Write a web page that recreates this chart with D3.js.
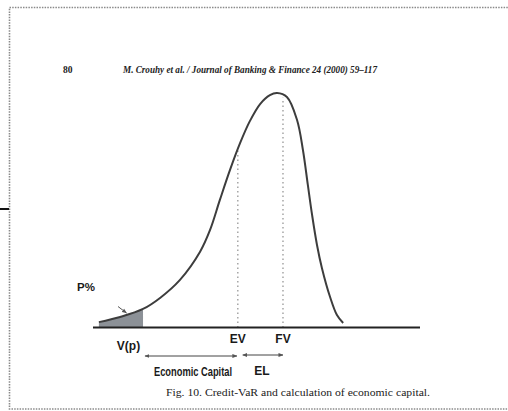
<!DOCTYPE html>
<html><head><meta charset="utf-8">
<title>Credit-VaR</title>
<script src="https://cdn.jsdelivr.net/npm/d3@7"></script>
<style>
body { margin: 0; background: #fff; }
</style>
</head>
<body>
<script>

// loss distribution (x: portfolio value, y: density, both 0-100)
var curve_x = [1.8, 8.3, 15.3, 20.5, 26.6, 32.7, 35.8, 38.8, 41.9, 45.0, 48.0, 51.1, 54.1, 56.3, 59.3, 62.4, 64.2, 65.7, 67.0, 68.5, 70.0, 72.5, 74.6, 76.5];
var curve_y = [2.3, 4.5, 7.9, 12.6, 20.3, 32.2, 41.6, 54.4, 67.2, 78.7, 88.1, 95.3, 99.1, 100, 98.3, 88.5, 75.7, 60.8, 48.0, 35.2, 25.4, 13.0, 5.3, 1.9];

// marker positions on the value axis
var marker_names = ["V(p)", "EV", "FV"];
var marker_x = [15.3, 44.3, 58.1];
var marker_top = [0, 76, 98];   // height where the dotted lines stop

var header_page = "80";
var header_text = "M. Crouhy et al. / Journal of Banking & Finance 24 (2000) 59\u2013117";
var caption_text = "Fig. 10. Credit-VaR and calculation of economic capital.";
var span_labels = ["Economic Capital", "EL"];

var width = 508;
var height = 411;
var svg = d3.select("body").append("svg").attr("width", width).attr("height", height);

var x = d3.scaleLinear().domain([0, 100]).range([93, 420]);
var y = d3.scaleLinear().domain([0, 100]).range([327.5, 93]);

var pts = curve_x.map(function(d, i) { return [d, curve_y[i]]; });

// dotted frame of the scanned page
svg.append("rect")
	.attr("x", 9.5).attr("y", 7.5)
	.attr("width", 530).attr("height", 401.5)
	.attr("fill", "none")
	.attr("stroke", "#8a8a8a")
	.attr("stroke-width", 1.6)
	.attr("stroke-dasharray", "1.5,1.2");

svg.append("line")
	.attr("x1", 0).attr("x2", 9).attr("y1", 209).attr("y2", 209)
	.attr("stroke", "#111").attr("stroke-width", 2);

// header
svg.append("text")
	.attr("x", 63).attr("y", 72.5)
	.attr("font-family", "Liberation Serif, Times New Roman, serif")
	.attr("font-weight", "bold")
	.attr("font-size", 9.5)
	.attr("fill", "#222")
	.text(header_page);

svg.append("text")
	.attr("x", 123).attr("y", 72.5)
	.attr("font-family", "Liberation Serif, Times New Roman, serif")
	.attr("font-style", "italic")
	.attr("font-weight", "bold")
	.attr("font-size", 10)
	.attr("textLength", 254)
	.attr("lengthAdjust", "spacingAndGlyphs")
	.attr("fill", "#222")
	.text(header_text);

var line = d3.line()
	.x(function(d) { return x(d[0]); })
	.y(function(d) { return y(d[1]); })
	.curve(d3.curveCatmullRom.alpha(0.5));

// shaded tail up to V(p)
var tail = pts.filter(function(d) { return d[0] <= marker_x[0]; });
var area = d3.area()
	.x(function(d) { return x(d[0]); })
	.y0(y(0))
	.y1(function(d) { return y(d[1]); })
	.curve(d3.curveMonotoneX);
svg.append("path")
	.datum(tail)
	.attr("d", area)
	.attr("fill", "#8c9197");

// dotted verticals at EV and FV
svg.append("g").selectAll("line")
	.data([1, 2])
	.enter().append("line")
	.attr("x1", function(i) { return x(marker_x[i]); })
	.attr("x2", function(i) { return x(marker_x[i]); })
	.attr("y1", y(0))
	.attr("y2", function(i) { return y(marker_top[i]); })
	.attr("stroke", "#777")
	.attr("stroke-width", 1)
	.attr("stroke-dasharray", "1.5,3");

// the distribution
svg.append("path")
	.datum(pts)
	.attr("d", line)
	.attr("fill", "none")
	.attr("stroke", "#3d3d3d")
	.attr("stroke-width", 2);

// value axis
svg.append("line")
	.attr("x1", x(0)).attr("x2", x(100))
	.attr("y1", y(0)).attr("y2", y(0))
	.attr("stroke", "#222").attr("stroke-width", 2.2);

// little arrow pointing at the tail
svg.append("defs").append("marker")
	.attr("id", "head")
	.attr("viewBox", "0 0 10 10")
	.attr("refX", 9).attr("refY", 5)
	.attr("markerWidth", 5).attr("markerHeight", 5)
	.attr("orient", "auto-start-reverse")
	.append("path")
	.attr("d", "M0,1L10,5L0,9Z")
	.attr("fill", "#555");

svg.append("line")
	.attr("x1", 118).attr("y1", 306.5)
	.attr("x2", 126.5).attr("y2", 313)
	.attr("stroke", "#555").attr("stroke-width", 1)
	.attr("marker-end", "url(#head)");

var sans = "Liberation Sans Narrow, Arial Narrow, Liberation Sans, Arial, sans-serif";

svg.append("text")
	.attr("x", 77).attr("y", 291)
	.attr("font-family", sans).attr("font-weight", "bold").attr("font-size", 11.5)
	.attr("fill", "#1a1a1a")
	.text("P%");

// marker labels
svg.append("g").selectAll("text")
	.data(marker_names)
	.enter().append("text")
	.attr("x", function(d, i) { return i == 0 ? x(marker_x[i]) - 14.5 : x(marker_x[i]); })
	.attr("y", function(d, i) { return i == 0 ? 349.5 : 342.5; })
	.attr("text-anchor", "middle")
	.attr("font-family", sans).attr("font-weight", "bold").attr("font-size", 12)
	.attr("fill", "#1a1a1a")
	.text(function(d) { return d; });

// spans: economic capital (V(p) -> EV) and expected loss (EV -> FV)
var spans = [[marker_x[0] + 0.6, marker_x[1] - 0.3], [marker_x[1] + 1.5, marker_x[2]]];
svg.append("g").selectAll("line")
	.data(spans)
	.enter().append("line")
	.attr("x1", function(d) { return x(d[0]); })
	.attr("x2", function(d) { return x(d[1]); })
	.attr("y1", function(d, i) { return i == 0 ? 356 : 355; })
	.attr("y2", function(d, i) { return i == 0 ? 356 : 355; })
	.attr("stroke", "#444").attr("stroke-width", 1)
	.attr("marker-start", "url(#head)")
	.attr("marker-end", "url(#head)");

svg.append("text")
	.attr("x", 154).attr("y", 376)
	.attr("font-family", sans).attr("font-weight", "bold").attr("font-size", 12)
	.attr("textLength", 78).attr("lengthAdjust", "spacingAndGlyphs")
	.attr("fill", "#1a1a1a")
	.text(span_labels[0]);

svg.append("text")
	.attr("x", 262).attr("y", 375)
	.attr("text-anchor", "middle")
	.attr("font-family", sans).attr("font-weight", "bold").attr("font-size", 12)
	.attr("fill", "#1a1a1a")
	.text(span_labels[1]);

// caption
svg.append("text")
	.attr("x", 166).attr("y", 396)
	.attr("font-family", "Liberation Serif, Times New Roman, serif")
	.attr("font-size", 10)
	.attr("textLength", 264).attr("lengthAdjust", "spacingAndGlyphs")
	.attr("fill", "#222")
	.text(caption_text);

</script>
</body></html>
